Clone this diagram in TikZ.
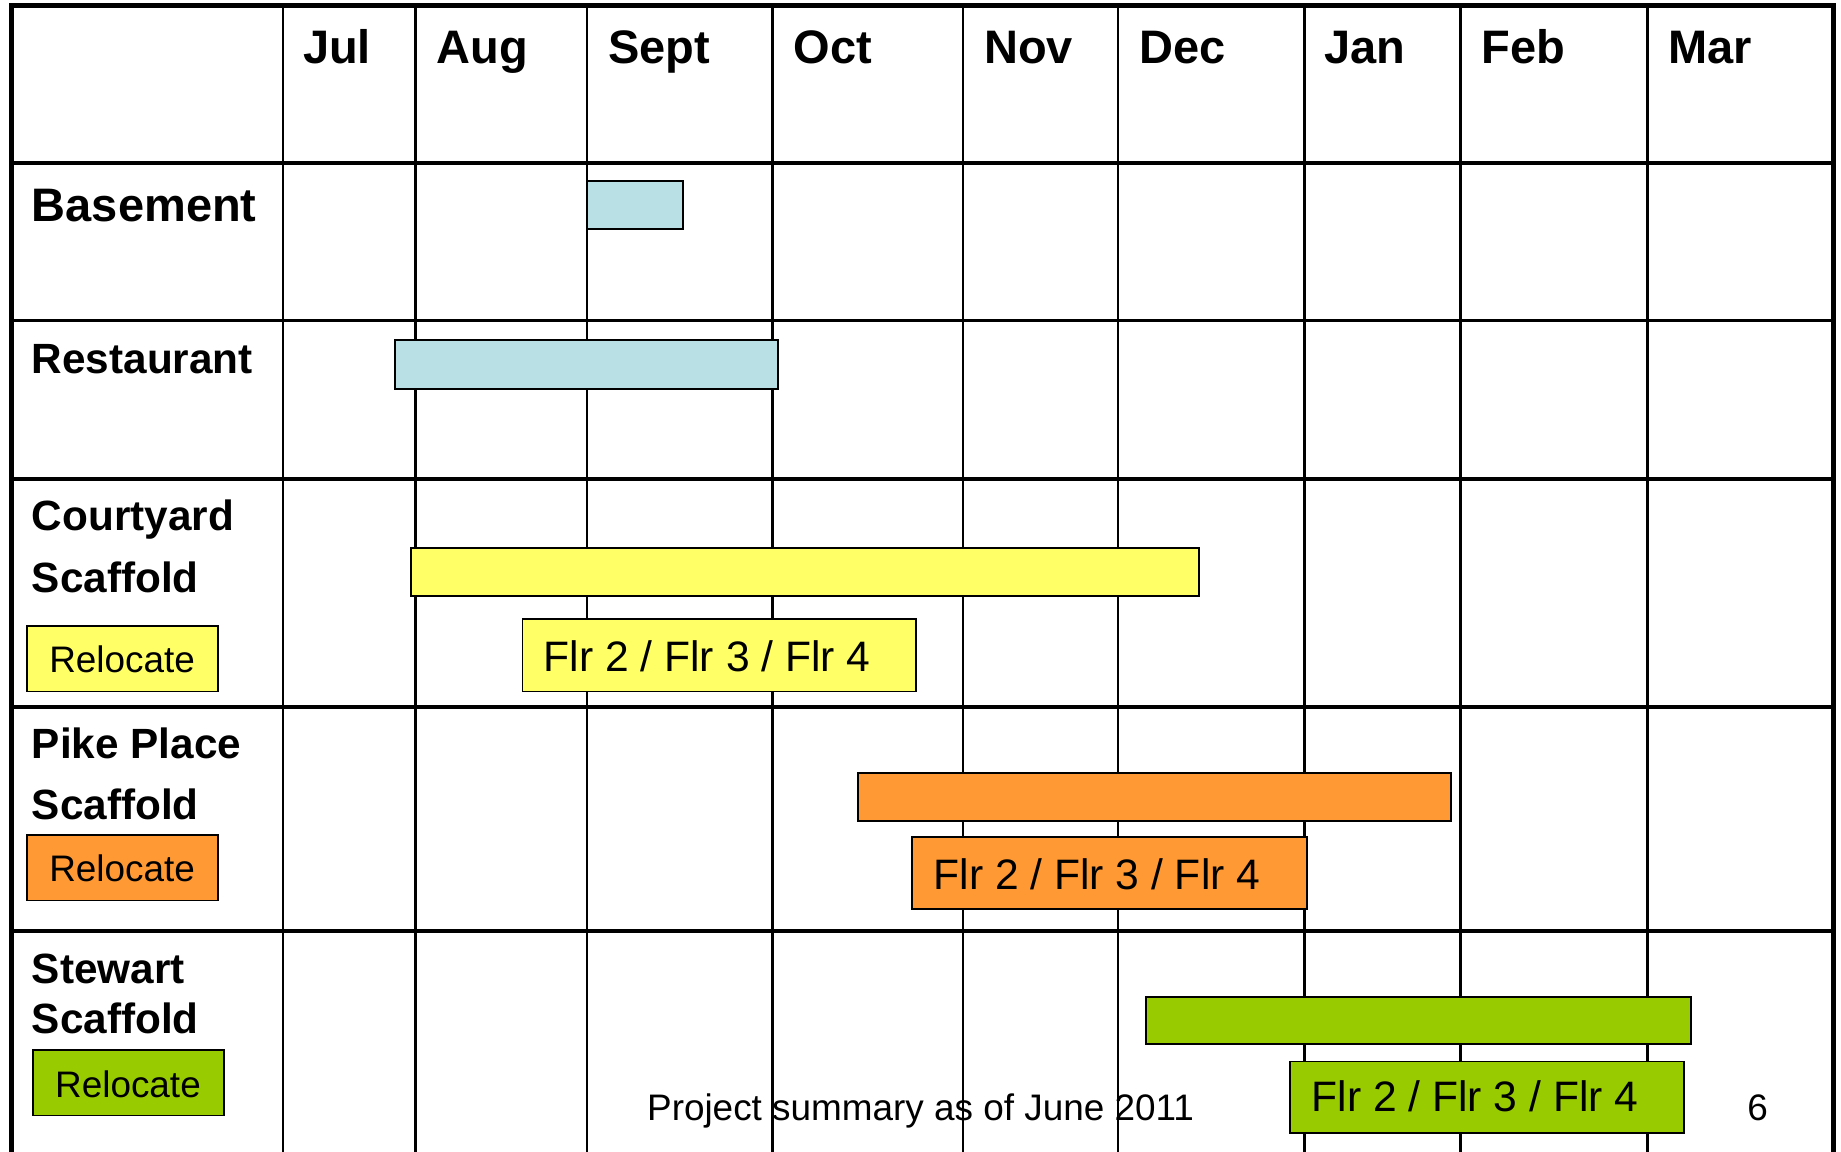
\documentclass[tikz,border=0pt]{standalone}
\usepackage{fontspec}
\setmainfont{Liberation Sans}
\definecolor{lblue}{RGB}{185,224,228}
\definecolor{yel}{RGB}{255,255,102}
\definecolor{org}{RGB}{255,153,51}
\definecolor{grn}{RGB}{153,204,0}
\tikzset{
  vline/.style={line width=2.5pt,black},
  hline/.style={line width=3.5pt,black},
  border/.style={line width=5pt,black},
  bar/.style={draw=black,line width=2pt},
  tbox/.style={draw=black,line width=1.8pt},
  month/.style={anchor=base west,inner sep=0pt,font=\fontsize{47}{50}\selectfont\bfseries},
  rowlab/.style={anchor=base west,inner sep=0pt,font=\fontsize{42.3}{45}\selectfont\bfseries},
  flr/.style={anchor=base west,inner sep=0pt,font=\fontsize{42.6}{45}\selectfont},
  reloc/.style={anchor=base,inner sep=0pt,font=\fontsize{36.9}{40}\selectfont},
  foot/.style={anchor=base west,inner sep=0pt,font=\fontsize{36.9}{40}\selectfont},
}
\begin{document}
\begin{tikzpicture}[x=1.1741pt,y=-1.1741pt]
\useasboundingbox[fill=white] (0,0) rectangle (1568,981);
% grid
\foreach \xx in {241,354,500,658,820,952,1111,1244,1403}{
  \draw[vline] (\xx,5) -- (\xx,985);
}
\foreach \yy in {139,273,408,602,793}{
  \draw[hline] (10,\yy) -- (1562,\yy);
}
\draw[border] (10,985) -- (10,5) -- (1562,5) -- (1562,985);
% months
\node[month] (jul) at (258,54) {Jul};
\node[month] (aug) at (372,54) {Aug};
\node[month] (sep) at (518,54) {Sept};
\node[month] (oct) at (676,54) {Oct};
\node[month] (nov) at (838,54) {Nov};
\node[month] (dec) at (970,54) {Dec};
\node[month] (jan) at (1128,54) {Jan};
\node[month] (feb) at (1262,54) {Feb};
\node[month] (mar) at (1421,54) {Mar};
% row labels
\node[month] (basement) at (27,189) {Basement};
\node[rowlab] (restaurant) at (27,318) {Restaurant};
\node[rowlab] (court1) at (27,452) {Courtyard};
\node[rowlab] (court2) at (27,505) {Scaffold};
\node[rowlab] (pike1) at (27,646) {Pike Place};
\node[rowlab] (pike2) at (27,698) {Scaffold};
\node[rowlab] (stew1) at (27,838) {Stewart};
\node[rowlab] (stew2) at (27,880) {Scaffold};
% bars
\filldraw[bar,fill=lblue] (500,154) rectangle (582,195);
\filldraw[bar,fill=lblue] (336,290) rectangle (663,331);
\filldraw[bar,fill=yel] (350,467) rectangle (1021,508);
\filldraw[bar,fill=org] (731,658) rectangle (1236,699);
\filldraw[bar,fill=grn] (976,849) rectangle (1440,889);
% relocate boxes
\filldraw[tbox,fill=yel] (23,533) rectangle (186,589);
\node[reloc] (rely) at (104,573) {Relocate};
\filldraw[tbox,fill=org] (23,711) rectangle (186,767);
\node[reloc] (relo) at (104,751) {Relocate};
\filldraw[tbox,fill=grn] (28,894) rectangle (191,950);
\node[reloc] (relg) at (109,935) {Relocate};
% footer
\node[foot] (footer) at (551,954) {Project summary as of June 2011};
\node[foot] (page) at (1488,954) {6};
% floor boxes
\filldraw[tbox,fill=yel] (445,527) rectangle (780,589);
\node[flr] (flry) at (463,572) {Flr 2 / Flr 3 / Flr 4};
\filldraw[tbox,fill=org] (777,713) rectangle (1113,774);
\node[flr] (flro) at (795,758) {Flr 2 / Flr 3 / Flr 4};
\filldraw[tbox,fill=grn] (1099,904) rectangle (1434,965);
\node[flr] (flrg) at (1117,947) {Flr 2 / Flr 3 / Flr 4};
\end{tikzpicture}
\end{document}
